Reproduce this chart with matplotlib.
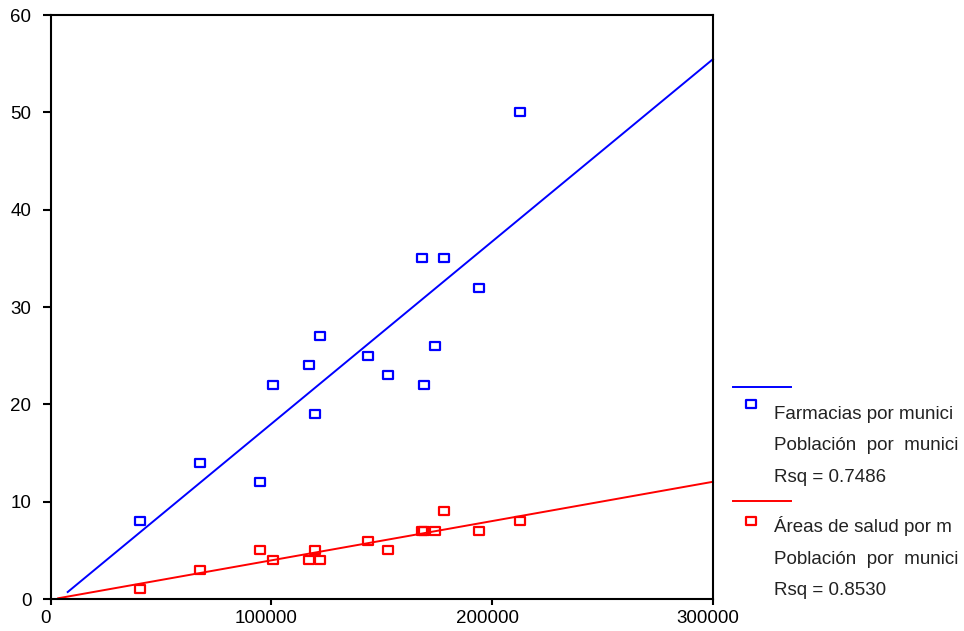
import numpy as np
import matplotlib
matplotlib.use("Agg")
import matplotlib.pyplot as plt
from matplotlib.path import Path
from matplotlib.lines import Line2D
from matplotlib.transforms import ScaledTranslation

plt.rcParams['font.family'] = ['Liberation Sans', 'DejaVu Sans']

# Población por municipio
poblacion = [40600, 67800, 94800, 100800, 116800, 119800, 122000, 143800,
             152900, 168000, 169100, 173900, 178000, 194000, 212500]
# Farmacias por municipio
farmacias = [8, 14, 12, 22, 24, 19, 27, 25, 23, 35, 22, 26, 35, 32, 50]
# Áreas de salud por municipio
areas_salud = [1, 3, 5, 4, 4, 5, 4, 6, 5, 7, 7, 7, 9, 7, 8]

series_labels = [
    ["Farmacias por munici", "Población  por  munici", "Rsq = 0.7486"],
    ["Áreas de salud por m", "Población  por  munici", "Rsq = 0.8530"],
]
series_colors = ["#0000ff", "#ff0000"]
fit_start = [7700, 3400]
x_ticks = [0, 100000, 200000, 300000]
y_ticks = [0, 10, 20, 30, 40, 50, 60]

W, H = 964, 631
fig = plt.figure(figsize=(W / 100, H / 100), dpi=100)
ax = fig.add_axes([50.7 / W, 1 - 599 / H, (713 - 50.7) / W, (599 - 15) / H])

# hollow, slightly wide rectangle marker
box = Path([(-1.25, -1), (1.25, -1), (1.25, 1), (-1.25, 1), (-1.25, -1)],
           [Path.MOVETO, Path.LINETO, Path.LINETO, Path.LINETO, Path.CLOSEPOLY])
MS, MEW = 6.6, 1.6

x = np.array(poblacion, dtype=float)
for yv, col, x0 in zip([farmacias, areas_salud], series_colors, fit_start):
    y = np.array(yv, dtype=float)
    ax.plot(x, y, linestyle='none', marker=box, markersize=MS,
            markerfacecolor='none', markeredgecolor=col, markeredgewidth=MEW,
            zorder=3)
    slope, icpt = np.polyfit(x, y, 1)
    xs = np.array([x0, 300000.0])
    ax.plot(xs, slope * xs + icpt, color=col, linewidth=1.4, zorder=2,
            clip_on=False)

ax.set_xlim(0, 300000)
ax.set_ylim(0, 60)
ax.set_xticks(x_ticks)
ax.set_xticklabels([str(v) for v in x_ticks])
ax.set_yticks(y_ticks)
ax.set_yticklabels([str(v) for v in y_ticks])
for s in ax.spines.values():
    s.set_linewidth(1.5)
    s.set_color('black')
ax.tick_params(axis='x', direction='out', length=4, width=1.5, pad=4,
               labelsize=13.5, colors='black')
ax.tick_params(axis='y', direction='out', length=6, width=1.5, pad=8,
               labelsize=13.5, colors='black')
for lbl in ax.get_xticklabels():
    lbl.set_transform(lbl.get_transform() +
                      ScaledTranslation(-5 / 100, 0, fig.dpi_scale_trans))


def fx(px):
    return px / W


def fy(py):
    return 1 - py / H


# legend drawn at the right of the plot area
groups = [(386.5, 404, [419, 450.5, 482.5]), (501, 520.5, [532, 563.5, 595])]
for (ly, my, baselines), col, texts in zip(groups, series_colors, series_labels):
    fig.add_artist(Line2D([fx(733), fx(791)], [fy(ly), fy(ly)], color=col,
                          linewidth=1.4, transform=fig.transFigure))
    fig.add_artist(Line2D([fx(750.5)], [fy(my)], linestyle='none', marker=box,
                          markersize=MS, markerfacecolor='none',
                          markeredgecolor=col, markeredgewidth=MEW,
                          transform=fig.transFigure))
    for t, b in zip(texts, baselines):
        fig.text(fx(774), fy(b), t, fontsize=13.5, color='#222222',
                 ha='left', va='baseline')

fig.savefig("out.png", dpi=100, facecolor='white')
